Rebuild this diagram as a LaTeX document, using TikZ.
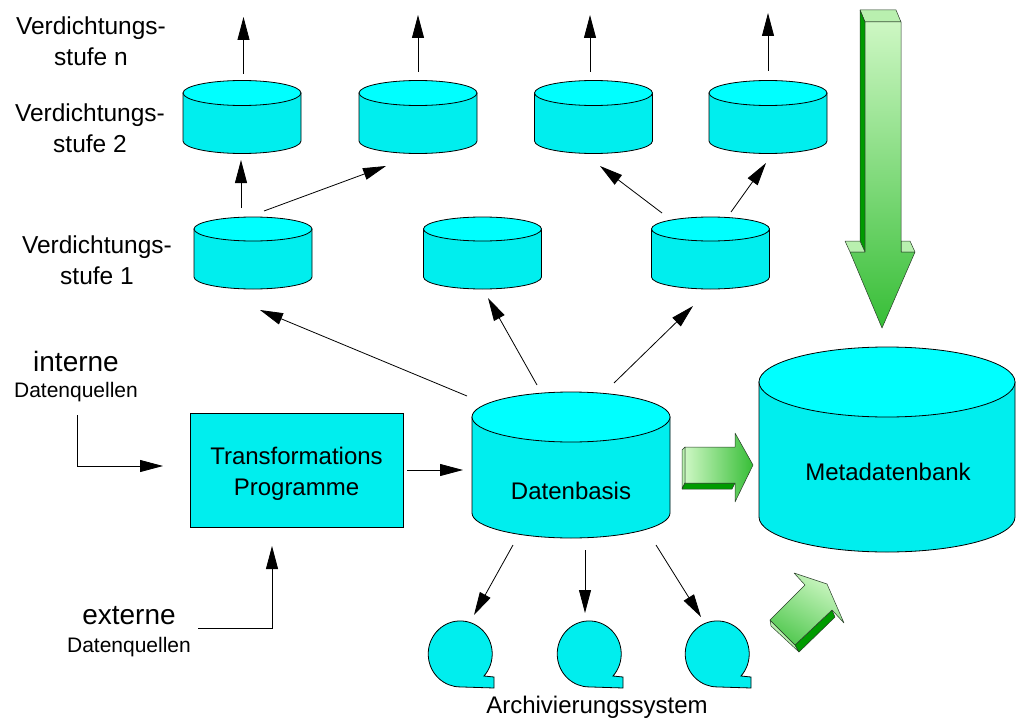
\documentclass[tikz,border=0pt]{standalone}
\usepackage{fontspec}
\setmainfont{Liberation Sans}
\usetikzlibrary{arrows.meta,calc}

\definecolor{cyantop}{RGB}{0,255,255}
\definecolor{cyanside}{RGB}{0,238,238}
\definecolor{glight}{RGB}{205,247,195}
\definecolor{gdark}{RGB}{55,190,55}
\definecolor{gcap}{RGB}{185,240,175}
\definecolor{gedge}{RGB}{0,155,0}
\definecolor{gline}{RGB}{40,60,40}

% cylinder: name, centre x, top-ellipse centre y, x radius, y radius, body height
\newcommand\cylshape[6]{%
  \filldraw[cylline, fill=cyanside] (#2-#4,#3) -- (#2-#4,#3+#6)
     arc[start angle=180, end angle=0, x radius=#4, y radius=#5] -- (#2+#4,#3) -- cycle;
  \filldraw[cylline, fill=cyantop] (#2,#3) ellipse[x radius=#4, y radius=#5];
  \node[inner sep=0pt, minimum width=2*#4, minimum height=#6+2*#5] (#1) at (#2,#3+#6/2) {};
}
% tape reel: name, centre x, centre y
\newcommand\reelshape[3]{%
  \filldraw[cylline, fill=cyanside] (#2+34,#3+34) -- (#2+34,#3+23) -- (#2+24,#3+22)
     arc[start angle=42, end angle=-270, x radius=32, y radius=33] -- cycle;
  \node[inner sep=0pt, minimum size=66] (#1) at (#2,#3) {};
}

\begin{document}
\begin{tikzpicture}[x=1pt, y=-1pt,
  cylline/.style={draw=black, line width=0.8pt},
  flow/.style={line width=0.8pt, -{Triangle[length=23pt, width=12pt]}},
  lbl/.style={font=\fontsize{24}{31}\selectfont, align=center, inner sep=0pt},
  lvl/.style={font=\fontsize{24.5}{31}\selectfont, align=center, inner sep=0pt},
  big/.style={font=\fontsize{28}{32}\selectfont, inner sep=0pt},
  small/.style={font=\fontsize{21}{25}\selectfont, inner sep=0pt},
  gface/.style={draw=gline, line width=0.5pt, line join=round},
  box/.style={draw=black, line width=0.8pt, fill=cyanside, minimum width=213, minimum height=114}]
\useasboundingbox (0,0) rectangle (1016,722);

% level labels
\node[lvl] (lvn) at (91,41)  {Verdichtungs-\\stufe n};
\node[lvl] (lv2) at (90,128) {Verdichtungs-\\stufe 2};
\node[lvl] (lv1) at (97,260) {Verdichtungs-\\stufe 1};

% aggregation level 2
\cylshape{ca}{242}{93}{59}{12.5}{48}
\cylshape{cb}{418}{93}{59}{12.5}{48}
\cylshape{cc}{593.5}{93}{59}{12.5}{48}
\cylshape{cd}{768}{93}{59}{12.5}{48}
% aggregation level 1
\cylshape{ba}{253}{229}{59}{12}{48}
\cylshape{bb}{482.5}{229}{59}{12}{48}
\cylshape{bc}{710.5}{229}{59}{12}{48}
% data base and metadata base
\cylshape{db}{571}{417}{99}{25}{96}
\cylshape{mdb}{887}{382}{128}{35}{135}
\node[lbl] (dbl) at (571,491) {Datenbasis};
\node[lbl] (mdbl) at (888,472) {Metadatenbank};

% transformation programs
\node[box] (tp) at (296.5,470) {};
\node[lbl] (tpl) at ($(tp.center)+(0,3.5)$) {Transformations\\Programme};

% archive reels
\reelshape{ra}{460}{654}
\reelshape{rb}{589}{654}
\reelshape{rc}{717}{654}
\node[lbl] (arch) at (597,707) {Archivierungssystem};

% data sources
\node[big] (intA) at (76,361) {interne};
\node[small] (intB) at (76,392) {Datenquellen};
\node[big] (extA) at (129,616) {externe};
\node[small] (extB) at (129,647) {Datenquellen};

% connector end points
\coordinate (pA1) at (243.5,74);  \coordinate (pA2) at (243.5,17);
\coordinate (pB1) at (418,72);    \coordinate (pB2) at (418,15);
\coordinate (pC1) at (590,72);    \coordinate (pC2) at (590,15);
\coordinate (pD1) at (768,71);    \coordinate (pD2) at (768,13);
\coordinate (q1) at (241,208);    \coordinate (q2) at (241,160);
\coordinate (q3) at (264,211);    \coordinate (q4) at (386,166);
\coordinate (q5) at (662,213);    \coordinate (q6) at (600,166);
\coordinate (q7) at (731,212);    \coordinate (q8) at (766,163);
\coordinate (d1) at (467,396);    \coordinate (d2) at (260,310);
\coordinate (d3) at (537,385);    \coordinate (d4) at (488,298);
\coordinate (d5) at (614,383);    \coordinate (d6) at (693,306);
\coordinate (r1) at (513,545);    \coordinate (r2) at (474,615);
\coordinate (r3) at (585,550);    \coordinate (r4) at (585,613);
\coordinate (r5) at (656,545);    \coordinate (r6) at (701,617);
\coordinate (i1) at (77,415);     \coordinate (i2) at (77,466);   \coordinate (i3) at (163,466);
\coordinate (e1) at (198,628);    \coordinate (e2) at (272,628);  \coordinate (e3) at (272,546);
\coordinate (t1) at (407,470);    \coordinate (t2) at (463,470);

% connectors
\draw[flow] (pA1) -- (pA2);
\draw[flow] (pB1) -- (pB2);
\draw[flow] (pC1) -- (pC2);
\draw[flow] (pD1) -- (pD2);
\draw[flow] (q1) -- (q2);
\draw[flow] (q3) -- (q4);
\draw[flow] (q5) -- (q6);
\draw[flow] (q7) -- (q8);
\draw[flow] (d1) -- (d2);
\draw[flow] (d3) -- (d4);
\draw[flow] (d5) -- (d6);
\draw[flow] (r1) -- (r2);
\draw[flow] (r3) -- (r4);
\draw[flow] (r5) -- (r6);
\draw[flow] (i1) -- (i2) -- (i3);
\draw[flow] (e1) -- (e2) -- (e3);
\draw[flow] (t1) -- (t2);

% big downward arrow into the metadata base
\filldraw[gface, fill=gcap] (860,10) -- (896,10) -- (901,22) -- (865,22) -- cycle;
\filldraw[gface, fill=gedge] (860,10) -- (865,22) -- (865,252) -- (860,241) -- cycle;
\filldraw[gface, fill=gcap] (845,241) -- (860,241) -- (865,252) -- (850,252) -- cycle;
\filldraw[gface, fill=gcap] (901,241) -- (910,241) -- (915,252) -- (901,252) -- cycle;
\shadedraw[gface, top color=glight, bottom color=gdark]
  (865,22) -- (901,22) -- (901,252) -- (915,252) -- (882,328) -- (850,252) -- (865,252) -- cycle;

% arrow from data base to metadata base
\filldraw[gface, fill=gcap] (682,450) -- (685,447) -- (685,483) -- (682,489) -- cycle;
\filldraw[gface, fill=gedge] (682,489) -- (685,483) -- (735,483) -- (732,489) -- cycle;
\shadedraw[gface, left color=glight, right color=gdark]
  (685,447) -- (735,447) -- (735,433) -- (753,465) -- (735,502) -- (735,483) -- (685,483) -- cycle;

% arrow from archive to metadata base
\filldraw[gface, fill=gcap] (770,620) -- (795,645) -- (799,652) -- (771,626) -- cycle;
\filldraw[gface, fill=gedge] (795,645) -- (832,610) -- (835,617) -- (799,652) -- cycle;
\shadedraw[gface, top color=glight, bottom color=gdark!80!glight, shading angle=-30]
  (770,620) -- (805,585) -- (794,573) -- (827,584) -- (844,623) -- (832,610) -- (795,645) -- cycle;
\end{tikzpicture}
\end{document}
